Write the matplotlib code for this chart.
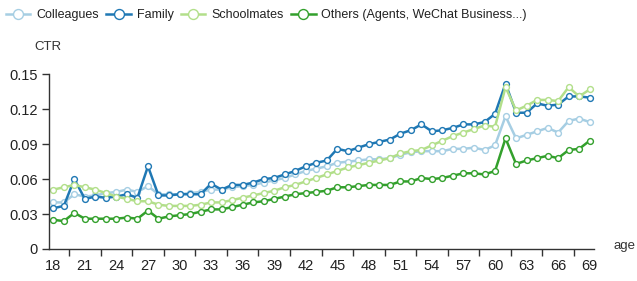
import matplotlib
matplotlib.use("Agg")
import matplotlib.pyplot as plt
import numpy as np

plt.rcParams['font.family'] = ['Liberation Sans', 'DejaVu Sans']

ages = list(range(18, 70))
colleagues = [0.040, 0.040, 0.047, 0.045, 0.046, 0.048, 0.049, 0.051, 0.049, 0.054,
              0.047, 0.047, 0.047, 0.048, 0.049, 0.051, 0.051, 0.053, 0.054, 0.055,
              0.057, 0.059, 0.061, 0.064, 0.067, 0.069, 0.071, 0.074, 0.075, 0.076,
              0.077, 0.077, 0.078, 0.081, 0.083, 0.084, 0.084, 0.084, 0.086, 0.086,
              0.087, 0.085, 0.089, 0.114, 0.095, 0.098, 0.101, 0.104, 0.100, 0.110,
              0.112, 0.109]
family = [0.035, 0.037, 0.060, 0.043, 0.045, 0.044, 0.045, 0.047, 0.044, 0.071,
          0.046, 0.046, 0.047, 0.047, 0.047, 0.056, 0.051, 0.055, 0.055, 0.057,
          0.060, 0.061, 0.064, 0.067, 0.071, 0.074, 0.076, 0.086, 0.084, 0.087,
          0.090, 0.092, 0.094, 0.099, 0.102, 0.107, 0.101, 0.102, 0.104, 0.107,
          0.107, 0.109, 0.116, 0.142, 0.117, 0.117, 0.125, 0.123, 0.124, 0.131,
          0.131, 0.130]
schoolmates = [0.051, 0.053, 0.055, 0.053, 0.051, 0.048, 0.045, 0.043, 0.041, 0.041,
               0.038, 0.037, 0.037, 0.037, 0.038, 0.040, 0.040, 0.042, 0.044, 0.046,
               0.048, 0.050, 0.053, 0.055, 0.058, 0.061, 0.064, 0.067, 0.070, 0.072,
               0.074, 0.076, 0.078, 0.082, 0.084, 0.085, 0.089, 0.093, 0.097, 0.100,
               0.103, 0.106, 0.105, 0.139, 0.119, 0.123, 0.128, 0.128, 0.127, 0.139,
               0.131, 0.137]
others = [0.025, 0.024, 0.031, 0.026, 0.026, 0.026, 0.026, 0.027, 0.026, 0.033,
          0.026, 0.028, 0.029, 0.030, 0.032, 0.034, 0.034, 0.036, 0.038, 0.040,
          0.041, 0.043, 0.045, 0.047, 0.048, 0.049, 0.050, 0.053, 0.053, 0.054,
          0.055, 0.055, 0.055, 0.058, 0.058, 0.061, 0.060, 0.061, 0.063, 0.065,
          0.065, 0.064, 0.067, 0.095, 0.073, 0.076, 0.078, 0.080, 0.078, 0.085,
          0.086, 0.093]

series_names = ["Colleagues", "Family", "Schoolmates", "Others (Agents, WeChat Business...)"]
series_values = [colleagues, family, schoolmates, others]
colors = ["#a6cee3", "#1f78b4", "#b2df8a", "#33a02c"]

x_labels = list(range(18, 70, 3))
y_ticks = [0, 0.03, 0.06, 0.09, 0.12, 0.15]
y_ticklabels = ["0", "0.03", "0.06", "0.09", "0.12", "0.15"]

fig = plt.figure(figsize=(6.37, 2.81), dpi=100)
ax = fig.add_axes([49/637, 1 - 249/281, (594-49)/637, (249-74.3)/281])

handles = []
for name, vals, c in zip(series_names, series_values, colors):
    h, = ax.plot(ages, vals, color=c, lw=1.8, marker='o', markersize=4.2,
                 markerfacecolor='white', markeredgecolor=c, markeredgewidth=1.0,
                 label=name, clip_on=False)
    handles.append(h)

ax.set_xlim(17.59, 69.41)
ax.set_ylim(0, 0.15)

for s in ["top", "right"]:
    ax.spines[s].set_visible(False)
for s in ["left", "bottom"]:
    ax.spines[s].set_color("#333333")
    ax.spines[s].set_linewidth(1.0)

ax.set_yticks(y_ticks)
ax.set_yticklabels(y_ticklabels)
ax.set_xticks(x_labels)
ax.set_xticklabels([str(v) for v in x_labels])
ax.set_xticks([v + 1.5 for v in x_labels[:-1]], minor=True)
ax.tick_params(axis='x', which='major', length=0, pad=7, labelsize=10.5, colors="#222222")
ax.tick_params(axis='x', which='minor', length=5, width=1.0, color="#333333", direction='out')
ax.tick_params(axis='y', which='major', length=5, width=1.0, color="#333333", pad=3,
               labelsize=10.5, labelcolor="#222222")

fig.text(48/637, 1 - 47/281, "CTR", ha='center', va='center', fontsize=9.5, color="#333333")
fig.text(624/637, 1 - 246/281, "age", ha='center', va='center', fontsize=9.5, color="#333333")

fig.legend(handles=handles, loc='center left', bbox_to_anchor=(6/637, 1 - 15/281), ncol=4,
           frameon=False, fontsize=9.0, handlelength=1.95, handletextpad=0.47,
           columnspacing=0.6, borderaxespad=0.0, borderpad=0.0, markerscale=1.7,
           labelcolor="#222222")

fig.savefig("out.png", dpi=100)
